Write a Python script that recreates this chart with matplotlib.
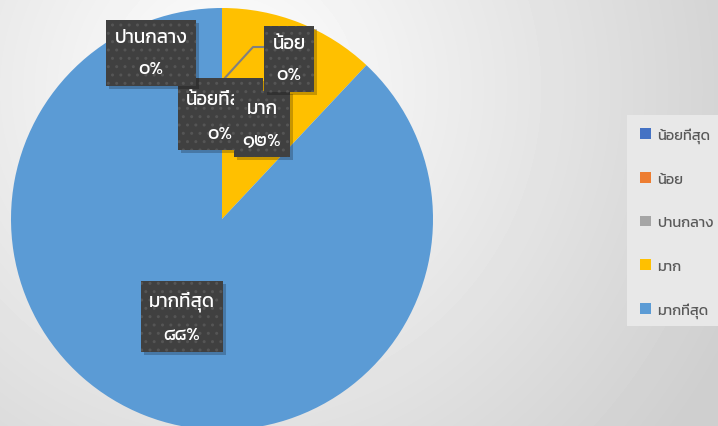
import numpy as np
import matplotlib
matplotlib.use("Agg")
import matplotlib.pyplot as plt
from matplotlib import font_manager
from matplotlib.ft2font import FT2Font
from matplotlib.patches import Rectangle

# ---- data ----
categories = ["น้อยที่สุด", "น้อย", "ปานกลาง", "มาก", "มากที่สุด"]
values = [0, 0, 0, 12, 88]
pct_labels = ["๐%", "๐%", "๐%", "๑๒%", "๘๘%"]
colors = ["#4472C4", "#ED7D31", "#A5A5A5", "#FFC000", "#5B9BD5"]

# label box centres (pixels, y from top) - layout only
label_pos = [(220, 116), (289, 60), (151, 54), (262, 125), (182, 318)]
draw_order = [0, 2, 3, 1, 4]


def find_thai_font():
    # prefer a Thai font whose tone marks have zero advance (no shaping in mpl)
    best, best_score = None, -1
    for f in font_manager.findSystemFonts():
        try:
            ft = FT2Font(f)
            cmap = ft.get_charmap()
        except Exception:
            continue
        if ord("ก") not in cmap or ord("%") not in cmap:
            continue
        score = 1
        try:
            g = ft.load_char(0x0E49)
            if g.horiAdvance == 0:
                score += 2
        except Exception:
            pass
        if ord("๘") in cmap:
            score += 1
        if score > best_score:
            best, best_score = f, score
    if best is None:
        return "DejaVu Sans"
    font_manager.fontManager.addfont(best)
    return font_manager.FontProperties(fname=best).get_name()


thai = find_thai_font()
plt.rcParams["font.family"] = [thai, "DejaVu Sans"]

W, H = 718, 427
fig = plt.figure(figsize=(W / 100, H / 100), dpi=100)
ax = fig.add_axes([0, 0, 1, 1])
ax.axis("off")

# background gradient
yy, xx = np.mgrid[0:H, 0:W]
d = np.clip(np.hypot(xx - 230, yy - 90) / 560.0, 0, 1)
bg = 1.0 - 0.19 * d
ax.imshow(bg, cmap="gray", vmin=0, vmax=1, extent=(0, W, H, 0), zorder=0)

# pie (y axis inverted, so counterclock flips)
cx, cy, r = 222, 220, 211
ax.pie(values, colors=colors, startangle=-90, counterclock=True,
       center=(cx, cy), radius=r, frame=False,
       wedgeprops=dict(linewidth=0))
ax.set_xlim(0, W)
ax.set_ylim(H, 0)
ax.set_aspect("auto")

# leader line for "น้อย"
ax.plot([265, 253, 223], [48, 48, 81], color="#808080", lw=1.5, zorder=3)

fs = 13.5
ls = 2.15
for k, i in enumerate(draw_order):
    x, y = label_pos[i]
    txt = categories[i] + "\n" + pct_labels[i]
    # shadow
    ax.text(x + 3, y + 3, txt, ha="center", va="center", color=(0, 0, 0, 0),
            fontsize=fs, linespacing=ls, zorder=4.9 + k,
            bbox=dict(boxstyle="square,pad=0.45", facecolor=(0, 0, 0, 0.22),
                      linewidth=0))
    ax.text(x, y, txt, ha="center", va="center", color="white",
            fontsize=fs, linespacing=ls, zorder=5 + k,
            bbox=dict(boxstyle="square,pad=0.45", facecolor="#404040",
                      edgecolor="#555555", linewidth=0, hatch=".."))

# legend panel
ax.add_patch(Rectangle((627, 116), 91, 211, facecolor="#e8e8e8",
                       edgecolor="none", zorder=2))
handles = [Rectangle((0, 0), 1, 1, facecolor=c, edgecolor="none") for c in colors]
leg = ax.legend(handles, categories, loc="upper left",
                bbox_to_anchor=(640 / W, 1 - 128 / H), frameon=False,
                fontsize=10.5, labelcolor="#595959", handlelength=0.75,
                handleheight=0.75, handletextpad=0.4, labelspacing=2.05,
                borderpad=0, borderaxespad=0)
leg.set_zorder(10)

fig.savefig("out.png", dpi=100)
